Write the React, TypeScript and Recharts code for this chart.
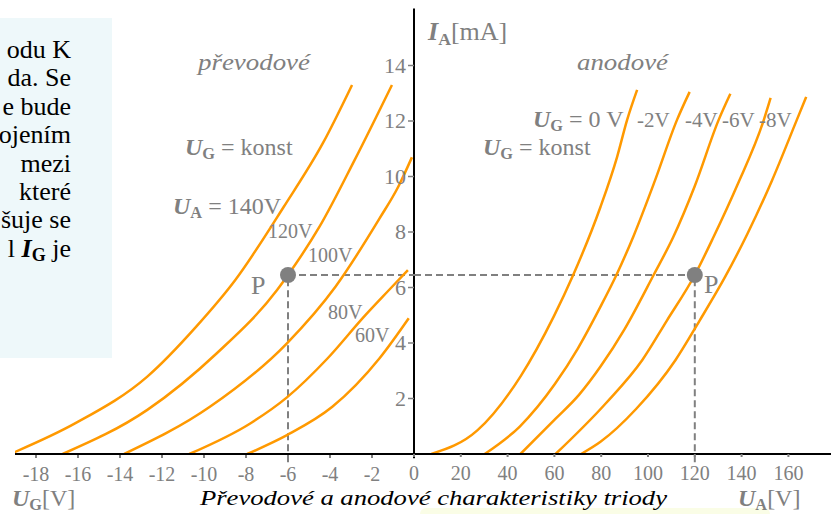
import { Line, LineChart, ReferenceDot, ReferenceLine, XAxis, YAxis } from "recharts";

// převodové charakteristiky: I_A [mA] v závislosti na U_G [V] pro U_A = konst
const UG_140 = [-19.22, -16.12, -12.7, -10.37, -8.51, -6.2, -4.34, -2.95];
const IA_140 = [0, 1.11, 2.79, 4.59, 6.27, 8.91, 11.2, 13.3];
const UG_120 = [-16.73, -12.7, -9.39, -6.52, -6.0, -4.5, -2.83, -1.05];
const IA_120 = [0, 1.59, 3.63, 5.91, 6.45, 8.19, 10.59, 13.3];
const UG_100 = [-13.8, -9.72, -6.05, -3.74, -1.64, -0.75, -0.1];
const IA_100 = [0, 1.7, 3.99, 6.03, 8.49, 9.63, 10.69];
const UG_80 = [-10.7, -7.78, -6.05, -4.11, -2.38, -1.19, -0.29];
const IA_80 = [0, 1.11, 2.04, 3.45, 4.95, 5.91, 6.63];
const UG_60 = [-7.94, -6.05, -3.89, -1.64, -0.25];
const IA_60 = [0, 0.68, 1.7, 3.45, 4.89];

// anodové charakteristiky: I_A [mA] v závislosti na U_A [V] pro U_G = konst
const UA_0 = [7.43, 27.06, 45.54, 59.75, 68.03, 79.68, 86.81, 91.08, 95.35];
const IA_0 = [0, 0.85, 2.8, 4.96, 6.45, 8.9, 10.71, 12.04, 13.12];
const UA_M2 = [30.2, 45.2, 60.2, 70, 79.7, 86.5, 93.8, 103, 112.4, 117.8];
const IA_M2 = [0, 0.99, 2.52, 3.8, 5.31, 6.45, 7.85, 9.86, 12.04, 13.05];
const UA_M4 = [45.5, 60, 70.5, 79.7, 90, 102.4, 110.8, 120, 130.2, 135.2];
const IA_M4 = [0, 1.23, 2.13, 3.15, 4.5, 6.45, 7.82, 9.66, 12.04, 12.98];
const UA_M6 = [60.5, 82, 97.5, 108, 120, 128, 138, 149.5, 152.4];
const IA_M6 = [0, 1.83, 3.38, 4.8, 6.45, 7.82, 9.66, 12.04, 12.83];
const UA_M8 = [71.4, 79.7, 95, 111.7, 122, 133, 142.4, 153, 163.6, 167.6];
const IA_M8 = [0, 0.44, 1.63, 3.38, 4.8, 6.39, 7.92, 9.86, 12.04, 12.87];

// pracovní bod P
const P_UG = -6;
const P_UA = 120;
const P_IA = 6.45;

const UG_TICKS = [-18, -16, -14, -12, -10, -8, -6, -4, -2];
const UA_TICKS = [0, 20, 40, 60, 80, 100, 120, 140, 160];
const IA_TICKS = [2, 4, 6, 8, 10, 12, 14];

const BOX_LINES = ["odu K", "da. Se", "e bude", "ojením", "mezi", "které", "šuje se"];

const FONT = '"Liberation Serif", "Times New Roman", serif';
const GRAY = "#808080";
const ORANGE = "#ff9900";

const W = 834;
const H = 514;
const MARGIN = { top: 10, right: 3, bottom: 58, left: 15 };
// obě vodorovné osy mají společnou nulu ve svislé ose
const ZERO_X = 414;
const PX_PER_UG = 21;
const PX_PER_UA = 2.34;
const PLOT_L = MARGIN.left;
const PLOT_R = W - MARGIN.right;
const UG_DOMAIN: [number, number] = [(PLOT_L - ZERO_X) / PX_PER_UG, (PLOT_R - ZERO_X) / PX_PER_UG];
const UA_DOMAIN: [number, number] = [(PLOT_L - ZERO_X) / PX_PER_UA, (PLOT_R - ZERO_X) / PX_PER_UA];
const IA_DOMAIN: [number, number] = [0, 16];

const zip = (xs: number[], ys: number[]) => xs.map((u, k) => ({ u, i: ys[k] }));

const transfer = [zip(UG_140, IA_140), zip(UG_120, IA_120), zip(UG_100, IA_100), zip(UG_80, IA_80), zip(UG_60, IA_60)];
const anode = [zip(UA_0, IA_0), zip(UA_M2, IA_M2), zip(UA_M4, IA_M4), zip(UA_M6, IA_M6), zip(UA_M8, IA_M8)];

function XTick({ x, y, payload }: any) {
  return (
    <text x={x} y={y + 21} textAnchor="middle" fill={GRAY} fontSize={20} fontFamily={FONT}>
      {payload.value}
    </text>
  );
}

function Sym({ x, y, main, sub, rest, size = 24, fill = GRAY }: any) {
  return (
    <text x={x} y={y} fontFamily={FONT} fontSize={size} fill={fill}>
      <tspan fontWeight="bold" fontStyle="italic">{main}</tspan>
      <tspan fontWeight="bold" fontSize={size * 0.68} dy={size * 0.18}>{sub}</tspan>
      <tspan dy={-size * 0.18}>{rest}</tspan>
    </text>
  );
}

function Label({ x, y, children, size = 20, italic = false, fill = GRAY, length }: any) {
  return (
    <text
      x={x}
      y={y}
      fontFamily={FONT}
      fontSize={size}
      fill={fill}
      fontStyle={italic ? "italic" : "normal"}
      textLength={length}
      lengthAdjust={length ? "spacingAndGlyphs" : undefined}
    >
      {children}
    </text>
  );
}

const dashed = { stroke: GRAY, strokeWidth: 2, strokeDasharray: "7 4" };

function PointP({ axis, u }: { axis: string; u: number }) {
  return (
    <Line
      xAxisId={axis}
      yAxisId="i"
      data={[{ u, i: P_IA }]}
      dataKey="i"
      stroke="none"
      dot={{ r: 8, fill: GRAY, stroke: "none" }}
      activeDot={false}
      isAnimationActive={false}
    />
  );
}

export default function App() {
  return (
    <div style={{ position: "absolute", left: 0, top: 0, width: W, height: H, background: "#fff", overflow: "hidden" }}>
      <div style={{ position: "absolute", left: 0, top: 18, width: 112, height: 340, background: "#eef8fa" }} />
      <div style={{ position: "absolute", left: 420, top: 508, width: 350, height: 12, background: "#fafde6", borderRadius: 6 }} />

      <div style={{ position: "absolute", left: 0, top: 0 }}>
        <LineChart width={W} height={H} margin={MARGIN}>
          <XAxis
            xAxisId="ug"
            dataKey="u"
            type="number"
            domain={UG_DOMAIN}
            allowDataOverflow
            ticks={UG_TICKS}
            interval={0}
            height={1}
            axisLine={false}
            tickLine={{ stroke: GRAY, strokeWidth: 2 }}
            tickSize={3}
            tick={<XTick />}
          />
          <XAxis
            xAxisId="ua"
            dataKey="u"
            type="number"
            domain={UA_DOMAIN}
            allowDataOverflow
            ticks={UA_TICKS}
            interval={0}
            height={1}
            axisLine={{ stroke: "#000", strokeWidth: 2 }}
            tickLine={{ stroke: GRAY, strokeWidth: 2 }}
            tickSize={3}
            tick={<XTick />}
          />
          <YAxis yAxisId="i" type="number" domain={IA_DOMAIN} allowDataOverflow hide width={0} />

          <ReferenceLine
            xAxisId="ua"
            yAxisId="i"
            segment={[{ x: 0, y: -0.15 }, { x: 0, y: IA_DOMAIN[1] + 0.05 }]}
            stroke="#000"
            strokeWidth={2}
            ifOverflow="visible"
          />
          {IA_TICKS.map((v) => (
            <ReferenceDot
              key={v}
              xAxisId="ua"
              yAxisId="i"
              x={0}
              y={v}
              r={0}
              ifOverflow="visible"
              shape={(p: any) => (
                <g>
                  <line x1={p.cx - 6} y1={p.cy} x2={p.cx} y2={p.cy} stroke={GRAY} strokeWidth={1.5} />
                  <text x={p.cx - 8} y={p.cy + 7} textAnchor="end" fill={GRAY} fontSize={22} fontFamily={FONT}>
                    {v}
                  </text>
                </g>
              )}
            />
          ))}

          <ReferenceLine xAxisId="ug" yAxisId="i" segment={[{ x: P_UG, y: -0.3 }, { x: P_UG, y: P_IA }]} ifOverflow="visible" {...dashed} />
          <ReferenceLine xAxisId="ug" yAxisId="i" segment={[{ x: P_UG, y: P_IA }, { x: 0, y: P_IA }]} {...dashed} />
          <ReferenceLine xAxisId="ua" yAxisId="i" segment={[{ x: 0, y: P_IA }, { x: P_UA, y: P_IA }]} {...dashed} />
          <ReferenceLine xAxisId="ua" yAxisId="i" segment={[{ x: P_UA, y: -0.3 }, { x: P_UA, y: P_IA }]} ifOverflow="visible" {...dashed} />

          {PointP({ axis: "ug", u: P_UG })}
          {PointP({ axis: "ua", u: P_UA })}

          {transfer.map((d, k) => (
            <Line
              key={`t${k}`}
              xAxisId="ug"
              yAxisId="i"
              data={d}
              dataKey="i"
              type="monotone"
              stroke={ORANGE}
              strokeWidth={2.5}
              dot={false}
              activeDot={false}
              isAnimationActive={false}
            />
          ))}
          {anode.map((d, k) => (
            <Line
              key={`a${k}`}
              xAxisId="ua"
              yAxisId="i"
              data={d}
              dataKey="i"
              type="monotone"
              stroke={ORANGE}
              strokeWidth={2.5}
              dot={false}
              activeDot={false}
              isAnimationActive={false}
            />
          ))}
        </LineChart>
      </div>

      <svg width={W} height={H} style={{ position: "absolute", left: 0, top: 0, pointerEvents: "none" }}>
        {BOX_LINES.map((t, k) => (
          <text key={t} x={71} y={58 + k * 28.4} textAnchor="end" fontFamily={FONT} fontSize={26} fill="#000">
            {t}
          </text>
        ))}
        <text x={71} y={257} textAnchor="end" fontFamily={FONT} fontSize={26} fill="#000">
          <tspan>{"l "}</tspan>
          <tspan fontWeight="bold" fontStyle="italic">I</tspan>
          <tspan fontWeight="bold" fontSize={18} dy={4}>G</tspan>
          <tspan dy={-4}>{" je"}</tspan>
        </text>

        <Label x={198} y={70} size={24} italic length={112}>převodové</Label>
        <Label x={577} y={70} size={24} italic length={91}>anodové</Label>
        <Sym x={428} y={40} main="I" sub="A" rest="[mA]" size={26} />

        <Sym x={185} y={155} main="U" sub="G" rest=" = konst" />
        <Sym x={173} y={214} main="U" sub="A" rest=" = 140V" />
        <Label x={268} y={238}>120V</Label>
        <Label x={308} y={262}>100V</Label>
        <Label x={328} y={319}>80V</Label>
        <Label x={355} y={342}>60V</Label>

        <Sym x={483} y={155} main="U" sub="G" rest=" = konst" />
        <Sym x={533} y={127} main="U" sub="G" rest=" = 0 V" />
        <Label x={637} y={127} size={21}>-2V</Label>
        <Label x={685} y={127} size={21}>-4V</Label>
        <Label x={722} y={127} size={21}>-6V</Label>
        <Label x={759} y={127} size={21}>-8V</Label>

        <Label x={251} y={294} size={26}>P</Label>
        <Label x={704} y={293} size={26}>P</Label>

        <Sym x={12} y={506} main="U" sub="G" rest="[V]" />
        <Sym x={738} y={506} main="U" sub="A" rest="[V]" />
        <Label x={200} y={505} size={22} italic fill="#000" length={467}>
          Převodové a anodové charakteristiky triody
        </Label>
      </svg>
    </div>
  );
}
